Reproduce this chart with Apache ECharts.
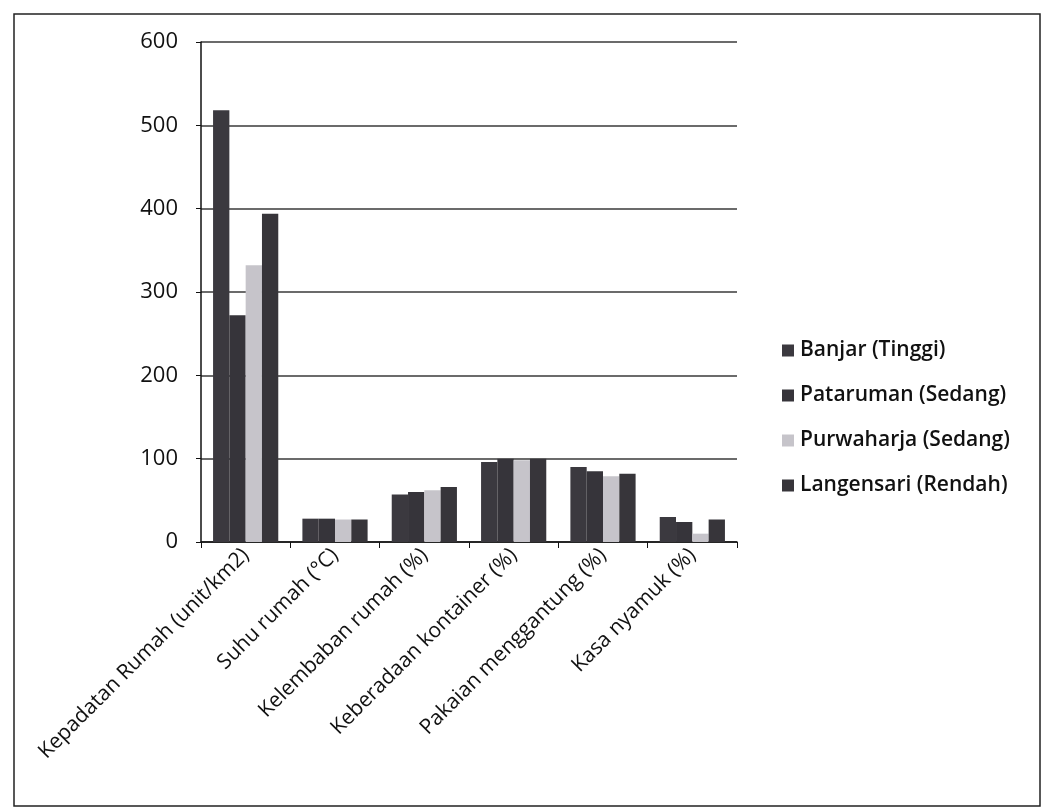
<!DOCTYPE html>
<html>
<head>
<meta charset="utf-8">
<script src="https://cdn.jsdelivr.net/npm/echarts@6/dist/echarts.min.js"></script>
<style>
  html, body { margin: 0; padding: 0; background: #fff; }
  #chart { width: 1045px; height: 809px; }
</style>
</head>
<body>
<div id="chart"></div>
<script>
// Indikator lingkungan rumah per kelurahan
const categories = [
  'Kepadatan Rumah (unit/km2)',
  'Suhu rumah (°C)',
  'Kelembaban rumah (%)',
  'Keberadaan kontainer (%)',
  'Pakaian menggantung (%)',
  'Kasa nyamuk (%)'
];
const seriesNames = [
  'Banjar (Tinggi)',
  'Pataruman (Sedang)',
  'Purwaharja (Sedang)',
  'Langensari (Rendah)'
];
const banjar     = [518, 28, 57, 96, 90, 30];
const pataruman  = [272, 28, 60, 100, 85, 24];
const purwaharja = [332, 27, 62, 98, 79, 10];
const langensari = [394, 27, 66, 100, 82, 27];
const yTicks = [0, 100, 200, 300, 400, 500, 600];

const seriesData = [banjar, pataruman, purwaharja, langensari];
const colors = ['#3b393f', '#36343a', '#c6c4ca', '#37353a'];
const font = '"Open Sans", "Noto Sans", sans-serif';

const chart = echarts.init(document.getElementById('chart'), null, { renderer: 'canvas' });
chart.setOption({
  animation: false,
  backgroundColor: '#ffffff',
  color: colors,
  graphic: [{
    type: 'rect',
    shape: { x: 14, y: 14, width: 1026, height: 792 },
    style: { fill: 'none', stroke: '#222', lineWidth: 1.5 },
    silent: true
  }],
  grid: { left: 201, top: 42, right: 308, bottom: 267, containLabel: false },
  legend: {
    orient: 'vertical',
    left: 777,
    top: 335,
    itemGap: 24,
    itemWidth: 12,
    itemHeight: 12,
    icon: 'rect',
    data: seriesNames,
    textStyle: { fontFamily: font, fontSize: 21, fontWeight: 600, color: '#111', padding: [0, 0, 0, 1] }
  },
  xAxis: {
    type: 'category',
    data: categories,
    axisLine: { lineStyle: { color: '#111', width: 1.5 } },
    axisTick: { show: true, length: 6, lineStyle: { color: '#111' } },
    axisLabel: {
      interval: 0,
      rotate: 45,
      margin: 10,
      fontFamily: font,
      fontSize: 21,
      color: '#111'
    }
  },
  yAxis: {
    type: 'value',
    min: 0,
    max: 600,
    interval: 100,
    axisLine: { show: true, lineStyle: { color: '#111', width: 1.5 } },
    axisTick: { show: true, length: 5, lineStyle: { color: '#111' } },
    axisLabel: {
      margin: 23,
      fontFamily: font,
      fontSize: 22,
      color: '#111',
      formatter: v => (yTicks.indexOf(v) >= 0 ? String(v) : '')
    },
    splitLine: { show: true, lineStyle: { color: '#3a3a3a', width: 1.5 } }
  },
  series: seriesNames.map((name, i) => ({
    name: name,
    type: 'bar',
    data: seriesData[i],
    barGap: '0%',
    barCategoryGap: '27%',
    itemStyle: { color: colors[i] }
  }))
});
</script>
</body>
</html>
